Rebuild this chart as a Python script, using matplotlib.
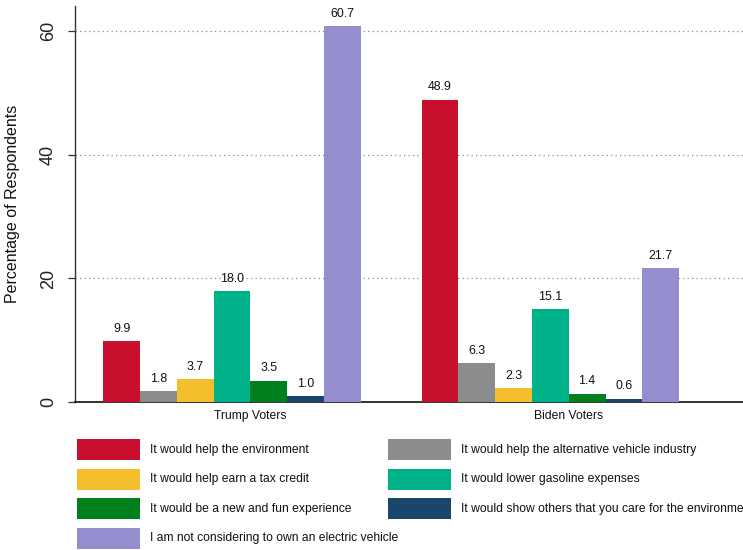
import matplotlib
matplotlib.use("Agg")
import matplotlib.pyplot as plt
from matplotlib import font_manager
from matplotlib.patches import Rectangle

# ---------------- data ----------------
groups = ["Trump Voters", "Biden Voters"]
reasons = [
    "It would help the environment",
    "It would help the alternative vehicle industry",
    "It would help earn a tax credit",
    "It would lower gasoline expenses",
    "It would be a new and fun experience",
    "It would show others that you care for the environment",
    "I am not considering to own an electric vehicle",
]
trump_values = [9.9, 1.8, 3.7, 18.0, 3.5, 1.0, 60.7]
biden_values = [48.9, 6.3, 2.3, 15.1, 1.4, 0.6, 21.7]
colors = ["#C8102E", "#8A8C8E", "#F5BE2C", "#00B28A", "#00801C", "#1B466B", "#958ECE"]
yticks = [0, 20, 40, 60]
ylabel = "Percentage of Respondents"

# ---------------- fonts ----------------
names = {f.name for f in font_manager.fontManager.ttflist}
narrow = "Liberation Sans Narrow" in names
base = "Liberation Sans" if "Liberation Sans" in names else "DejaVu Sans"
hfam = ["Liberation Sans Narrow", base] if narrow else [base]
hscale = 1.0 / 0.82 if narrow else 1.0
plt.rcParams["font.family"] = [base]

W, H = 743, 550
fig = plt.figure(figsize=(W / 100, H / 100), dpi=100)

ax_left, ax_right, ax_bottom_px, ax_top_px = 75, 743, 402.3, 6
ax = fig.add_axes([ax_left / W, (H - ax_bottom_px) / H,
                   (ax_right - ax_left) / W, (ax_bottom_px - ax_top_px) / H])

group_offsets = [0.0, 8.66]
for off, vals in zip(group_offsets, [trump_values, biden_values]):
    xs = [off + i for i in range(len(vals))]
    ax.bar(xs, vals, width=1.0, align="edge", color=colors, edgecolor="none", zorder=3)
    for x, v in zip(xs, vals):
        ax.annotate(f"{v:.1f}", (x + 0.5, v), xytext=(0, 4.5), textcoords="offset points",
                    ha="center", va="bottom", fontsize=8.9 * hscale, family=hfam,
                    color="#111111", zorder=4)

ax.set_xlim(-0.77, 17.40)
ax.set_ylim(0, 64.0)

ax.set_yticks(yticks)
ax.set_yticklabels([str(t) for t in yticks], rotation=90, va="center", ha="right",
                   fontsize=13, color="#222222")
ax.tick_params(axis="y", length=5, width=0.9, color="#333333", pad=8)

ax.set_xticks([off + 4.0 for off in group_offsets])
ax.set_xticklabels(groups, fontsize=8.7 * hscale, family=hfam, color="#111111")
ax.tick_params(axis="x", length=0, pad=5.5)

for y in yticks[1:]:
    ax.axhline(y, color="#8c8c8c", lw=0.9, ls=(0, (1, 2.6)), zorder=1)

for s in ["top", "right"]:
    ax.spines[s].set_visible(False)
ax.spines["left"].set_color("#333333")
ax.spines["left"].set_linewidth(1.0)
ax.spines["bottom"].set_color("#111111")
ax.spines["bottom"].set_linewidth(1.2)

fig.text(13 / W, (H - 204) / H, ylabel, rotation=90, ha="center", va="center",
         fontsize=11.5, color="#111111")

# ---------------- legend (Stata-style, row-major, 2 columns) ----------------
patch_x = [77, 388]
top0, pitch, pw, ph = 439.3, 29.4, 63, 21
for i, (lab, col) in enumerate(zip(reasons, colors)):
    r, c = divmod(i, 2)
    x0 = patch_x[c]
    y_top = top0 + r * pitch
    fig.add_artist(Rectangle((x0 / W, (H - y_top - ph) / H), pw / W, ph / H,
                             transform=fig.transFigure, facecolor=col, edgecolor="none"))
    fig.text((x0 + pw + 10) / W, (H - y_top - ph / 2) / H, lab, ha="left", va="center",
             fontsize=8.7 * hscale, family=hfam, color="#111111")

fig.savefig("out.png", dpi=100)
